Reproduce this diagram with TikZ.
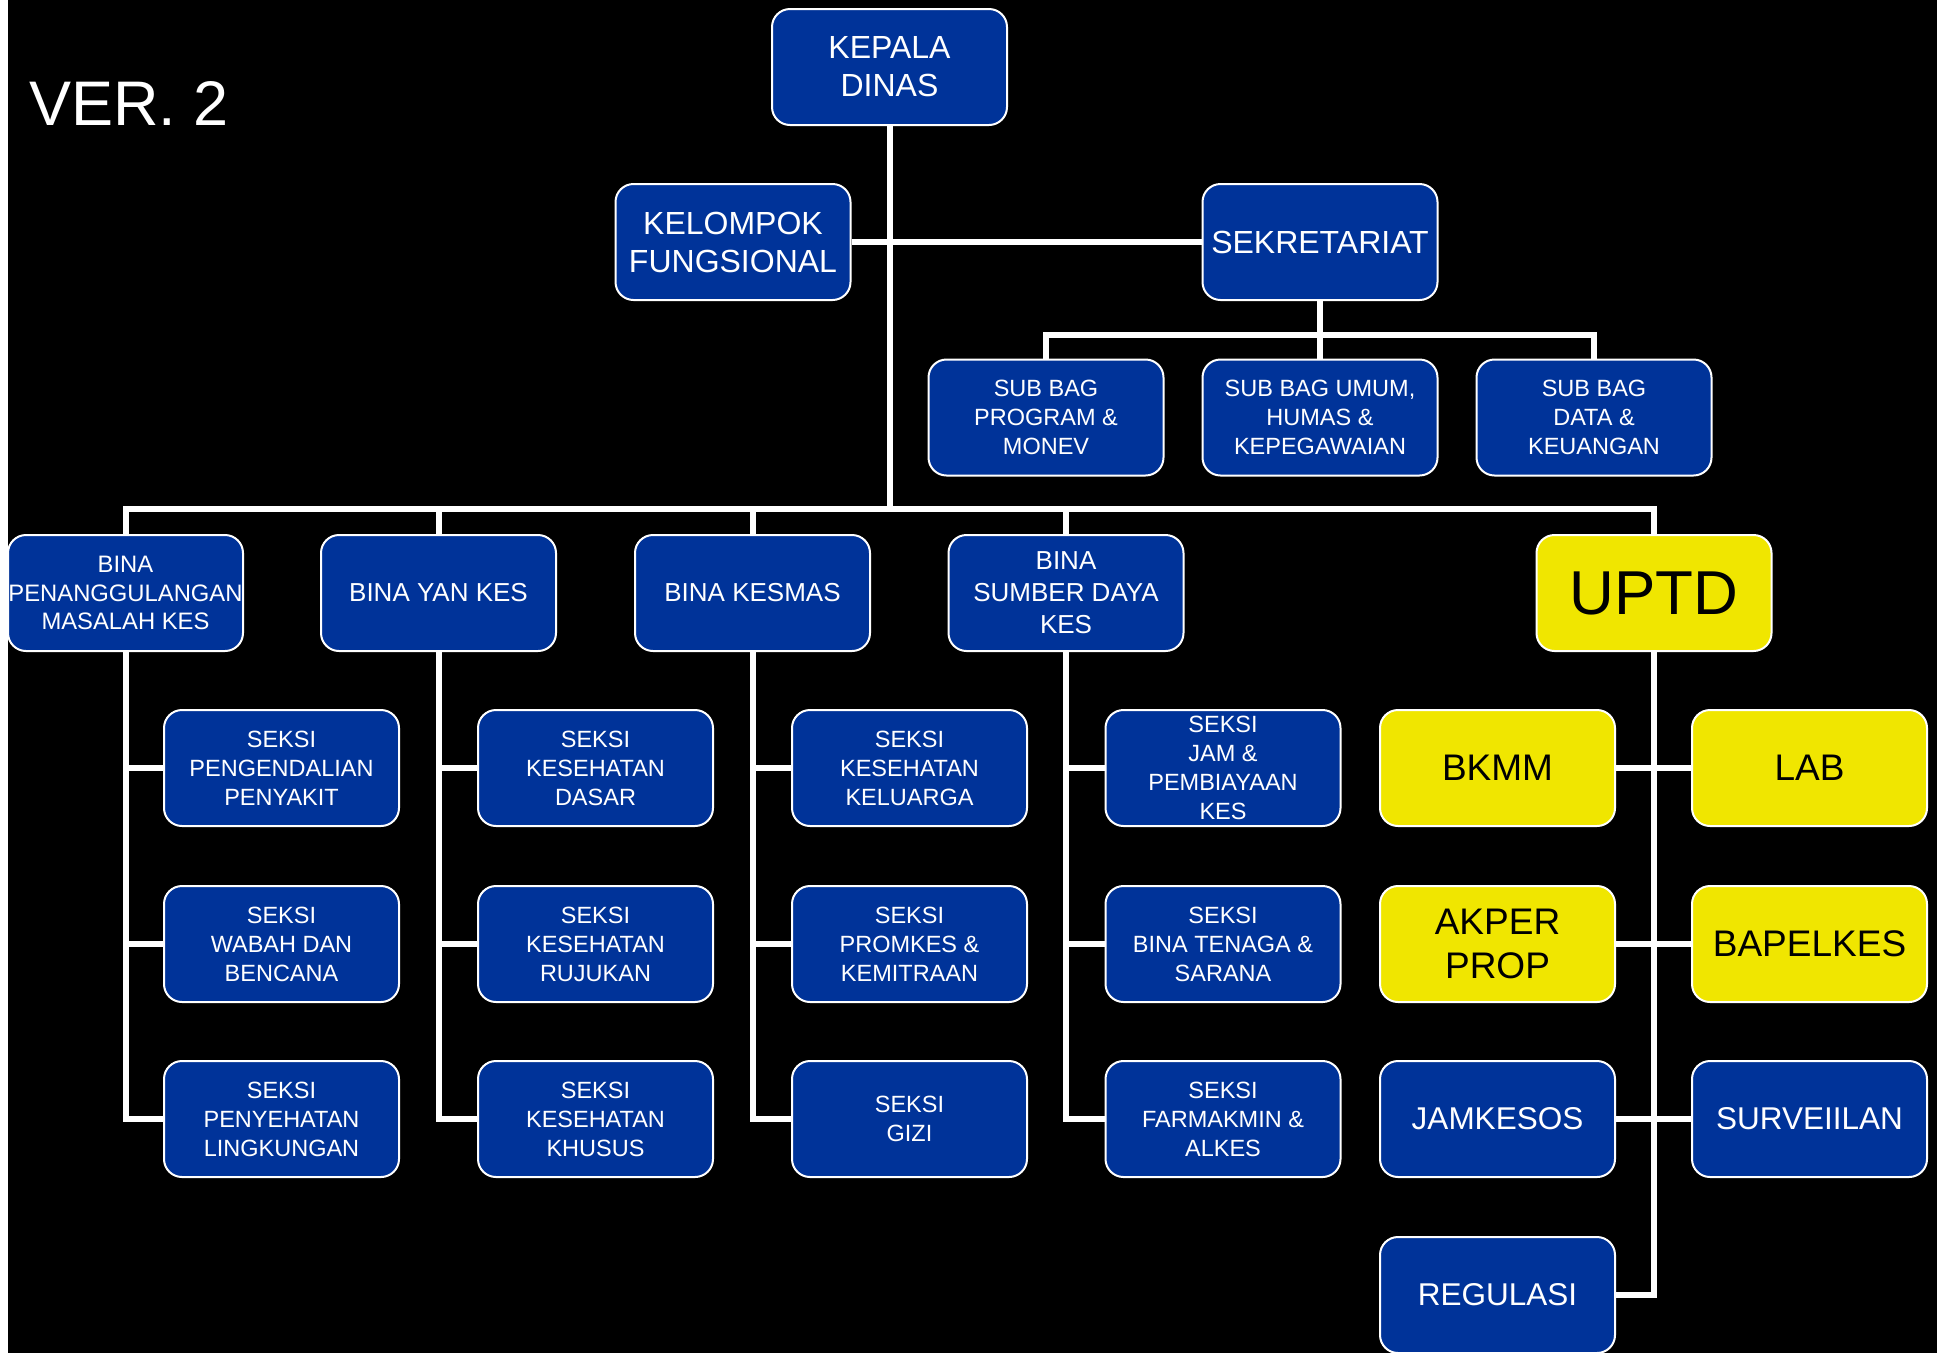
\documentclass[tikz,border=0pt]{standalone}
\usepackage{fontspec}
\setmainfont{Liberation Sans}
\definecolor{orgblue}{RGB}{0,51,153}
\definecolor{orgyellow}{RGB}{240,230,0}
\tikzset{
  unit/.style={draw=white, line width=2pt, rounded corners=18pt,
    minimum width=235pt, minimum height=116pt, inner sep=0pt,
    align=center, fill=orgblue, text=white,
    font=\fontsize{23.5}{29}\selectfont},
  upt/.style={unit, fill=orgyellow, text=black,
    font=\fontsize{37}{44.5}\selectfont},
  bigtxt/.style={font=\fontsize{32}{38}\selectfont},
  bintxt/.style={font=\fontsize{26}{32}\selectfont},
  uptblue/.style={font=\fontsize{31.5}{38}\selectfont},
  link/.style={draw=white, line width=6pt},
}
\begin{document}
\begin{tikzpicture}[x=1pt,y=-1pt]
% page and background
\fill[white] (0,0) rectangle (1937,1353);
\fill[black] (8,0) rectangle (1937,1353);
\useasboundingbox (0,0) rectangle (1937,1353);

\node[anchor=base west, text=white, inner sep=0pt,
      font=\fontsize{63}{63}\selectfont] (ver) at (29,125) {VER. 2};

% top level
\node[unit, bigtxt] (kepala) at (889.5,67) {KEPALA\\DINAS};
\node[unit, bigtxt] (kelompok) at (733,242) {KELOMPOK\\FUNGSIONAL};
\node[unit, bigtxt] (sekretariat) at (1320,242) {SEKRETARIAT};

% secretariat sub-units
\node[unit] (sbprog) at (1046,417.5) {SUB BAG\\PROGRAM \&\\MONEV};
\node[unit] (sbumum) at (1320,417.5) {SUB BAG UMUM,\\HUMAS \&\\KEPEGAWAIAN};
\node[unit] (sbdata) at (1594,417.5) {SUB BAG\\DATA \&\\KEUANGAN};

% divisions
\node[unit, font=\fontsize{23.8}{28.5}\selectfont] (pmk) at (125.5,593) {BINA\\PENANGGULANGAN\\MASALAH KES};
\node[unit, bintxt] (yankes) at (438.5,593) {BINA YAN KES};
\node[unit, bintxt] (kesmas) at (752.5,593) {BINA KESMAS};
\node[unit, bintxt] (sdk) at (1066,593) {BINA\\SUMBER DAYA\\KES};
\node[upt, font=\fontsize{62}{62}\selectfont] (uptd) at (1654,593) {UPTD};

% sections
\node[unit] (s11) at (281.5,768) {SEKSI\\PENGENDALIAN\\PENYAKIT};
\node[unit] (s12) at (281.5,944) {SEKSI\\WABAH DAN\\BENCANA};
\node[unit] (s13) at (281.5,1119) {SEKSI\\PENYEHATAN\\LINGKUNGAN};

\node[unit] (s21) at (595.5,768) {SEKSI\\KESEHATAN\\DASAR};
\node[unit] (s22) at (595.5,944) {SEKSI\\KESEHATAN\\RUJUKAN};
\node[unit] (s23) at (595.5,1119) {SEKSI\\KESEHATAN\\KHUSUS};

\node[unit] (s31) at (909.5,768) {SEKSI\\KESEHATAN\\KELUARGA};
\node[unit] (s32) at (909.5,944) {SEKSI\\PROMKES \&\\KEMITRAAN};
\node[unit] (s33) at (909.5,1119) {SEKSI\\GIZI};

\node[unit] (s41) at (1223,768) {SEKSI\\JAM \&\\PEMBIAYAAN\\KES};
\node[unit] (s42) at (1223,944) {SEKSI\\BINA TENAGA \&\\SARANA};
\node[unit] (s43) at (1223,1119) {SEKSI\\FARMAKMIN \&\\ALKES};

% technical units
\node[upt] (bkmm) at (1497.5,768) {BKMM};
\node[upt] (lab) at (1809.5,768) {LAB};
\node[upt] (akper) at (1497.5,944) {AKPER\\PROP};
\node[upt] (bapelkes) at (1809.5,944) {BAPELKES};
\node[unit, uptblue] (jamkesos) at (1497.5,1119) {JAMKESOS};
\node[unit, uptblue] (surveilan) at (1809.5,1119) {SURVEIILAN};
\node[unit, uptblue] (regulasi) at (1497.5,1295) {REGULASI};

% junction points
\coordinate (bus) at (889.5,509);
\coordinate (sbus) at (1320,335);

% connectors
\draw[link] (kepala.south) -- (bus);
\draw[link] (kelompok.east) -- (sekretariat.west);
\draw[link] (sekretariat.south) -- (sbumum.north);
\draw[link] (sbprog.north) |- (sbus) -| (sbdata.north);

\draw[link] (pmk.north) |- (bus) -| (uptd.north);
\draw[link] (yankes.north) -- (yankes.north |- bus);
\draw[link] (kesmas.north) -- (kesmas.north |- bus);
\draw[link] (sdk.north) -- (sdk.north |- bus);

\draw[link] (pmk.south) |- (s13.west);
\draw[link] (s11.west) -- (s11.west -| pmk.south);
\draw[link] (s12.west) -- (s12.west -| pmk.south);

\draw[link] (yankes.south) |- (s23.west);
\draw[link] (s21.west) -- (s21.west -| yankes.south);
\draw[link] (s22.west) -- (s22.west -| yankes.south);

\draw[link] (kesmas.south) |- (s33.west);
\draw[link] (s31.west) -- (s31.west -| kesmas.south);
\draw[link] (s32.west) -- (s32.west -| kesmas.south);

\draw[link] (sdk.south) |- (s43.west);
\draw[link] (s41.west) -- (s41.west -| sdk.south);
\draw[link] (s42.west) -- (s42.west -| sdk.south);

\draw[link] (uptd.south) |- (regulasi.east);
\draw[link] (bkmm.east) -- (lab.west);
\draw[link] (akper.east) -- (bapelkes.west);
\draw[link] (jamkesos.east) -- (surveilan.west);
\end{tikzpicture}
\end{document}
